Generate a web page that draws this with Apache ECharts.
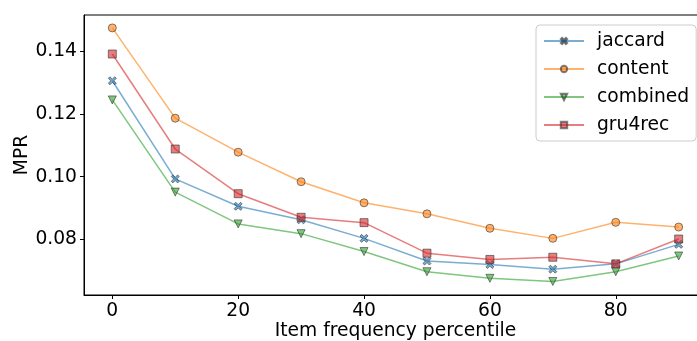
<!DOCTYPE html>
<html>
<head>
<meta charset="utf-8">
<script src="https://cdn.jsdelivr.net/npm/echarts@6/dist/echarts.min.js"></script>
<style>
  html, body { margin: 0; padding: 0; background: #fff; }
  #chart { width: 697px; height: 341px; }
</style>
</head>
<body>
<div id="chart"></div>
<script>
const percentiles = [0, 10, 20, 30, 40, 50, 60, 70, 80, 90];
const jaccard = [0.1305, 0.0993, 0.0906, 0.0863, 0.0804, 0.0732, 0.0721, 0.0706, 0.0723, 0.0785];
const content = [0.1473, 0.1186, 0.1078, 0.0984, 0.0917, 0.0882, 0.0836, 0.0804, 0.0855, 0.0840];
const combined = [0.1244, 0.0951, 0.0850, 0.0819, 0.0762, 0.0698, 0.0677, 0.0667, 0.0698, 0.0748];
const gru4rec = [0.1390, 0.1088, 0.0946, 0.0871, 0.0854, 0.0757, 0.0737, 0.0744, 0.0723, 0.0802];
const xTicks = [0, 20, 40, 60, 80];
const yTicks = [0.08, 0.10, 0.12, 0.14];

const FONT = 'DejaVu Sans';
const FS = 18.7;
const xMark = 'path://M2,0 L5,3 L8,0 L10,2 L7,5 L10,8 L8,10 L5,7 L2,10 L0,8 L3,5 L0,2 Z';

function pairs(vals) {
  return percentiles.map((p, i) => [p, vals[i]]);
}

function makeSeries(name, vals, rgb, symbol, size, rotate) {
  return {
    name: name,
    type: 'line',
    data: pairs(vals),
    symbol: symbol,
    symbolSize: size,
    symbolRotate: rotate || 0,
    showAllSymbol: true,
    lineStyle: { color: `rgba(${rgb},0.6)`, width: 1.5 },
    itemStyle: {
      color: `rgba(${rgb},0.6)`,
      borderColor: 'rgba(50,50,50,0.6)',
      borderWidth: 1
    },
    emphasis: { disabled: true },
    animation: false
  };
}

const chart = echarts.init(document.getElementById('chart'), null, { renderer: 'canvas' });

chart.setOption({
  animation: false,
  grid: {
    left: 84, top: 15, right: -10, bottom: 46,
    outerBoundsMode: 'none',
    containLabel: false,
    show: true, borderColor: '#000', borderWidth: 1, backgroundColor: 'transparent'
  },
  legend: {
    orient: 'vertical',
    left: 536,
    top: 25,
    padding: [6, 7, 6, 7],
    itemWidth: 40,
    itemHeight: 8,
    itemGap: 8,
    backgroundColor: 'rgba(255,255,255,0.8)',
    borderColor: '#ccc',
    borderWidth: 1,
    borderRadius: 4,
    textStyle: { fontFamily: FONT, fontSize: FS, color: '#000', lineHeight: 20, padding: [0, 0, 0, 8] },
    data: ['jaccard', 'content', 'combined', 'gru4rec']
  },
  xAxis: {
    type: 'value',
    min: -4.5,
    max: 94.5,
    name: 'Item frequency percentile',
    nameLocation: 'middle',
    nameGap: 27,
    nameMoveOverlap: false,
    nameTextStyle: { fontFamily: FONT, fontSize: FS, color: '#000' },
    axisLine: { show: true, onZero: false, lineStyle: { color: '#000', width: 1 } },
    axisTick: { show: true, length: 4, lineStyle: { color: '#000' }, customValues: xTicks },
    axisLabel: { fontFamily: FONT, fontSize: FS, color: '#000', margin: 7, customValues: xTicks },
    splitLine: { show: false }
  },
  yAxis: {
    type: 'value',
    min: 0.0624,
    max: 0.1514,
    name: 'MPR',
    nameLocation: 'middle',
    nameGap: 52,
    nameMoveOverlap: false,
    nameTextStyle: { fontFamily: FONT, fontSize: FS, color: '#000' },
    axisLine: { show: true, onZero: false, lineStyle: { color: '#000', width: 1 } },
    axisTick: { show: true, length: 4, lineStyle: { color: '#000' }, customValues: yTicks },
    axisLabel: {
      fontFamily: FONT, fontSize: FS, color: '#000', margin: 7,
      customValues: yTicks,
      formatter: v => v.toFixed(2)
    },
    splitLine: { show: false }
  },
  series: [
    makeSeries('jaccard', jaccard, '31,119,180', xMark, 8),
    makeSeries('content', content, '255,127,14', 'circle', 8),
    makeSeries('combined', combined, '44,160,44', 'triangle', 8, 180),
    makeSeries('gru4rec', gru4rec, '214,39,40', 'rect', 8)
  ]
});
</script>
</body>
</html>
